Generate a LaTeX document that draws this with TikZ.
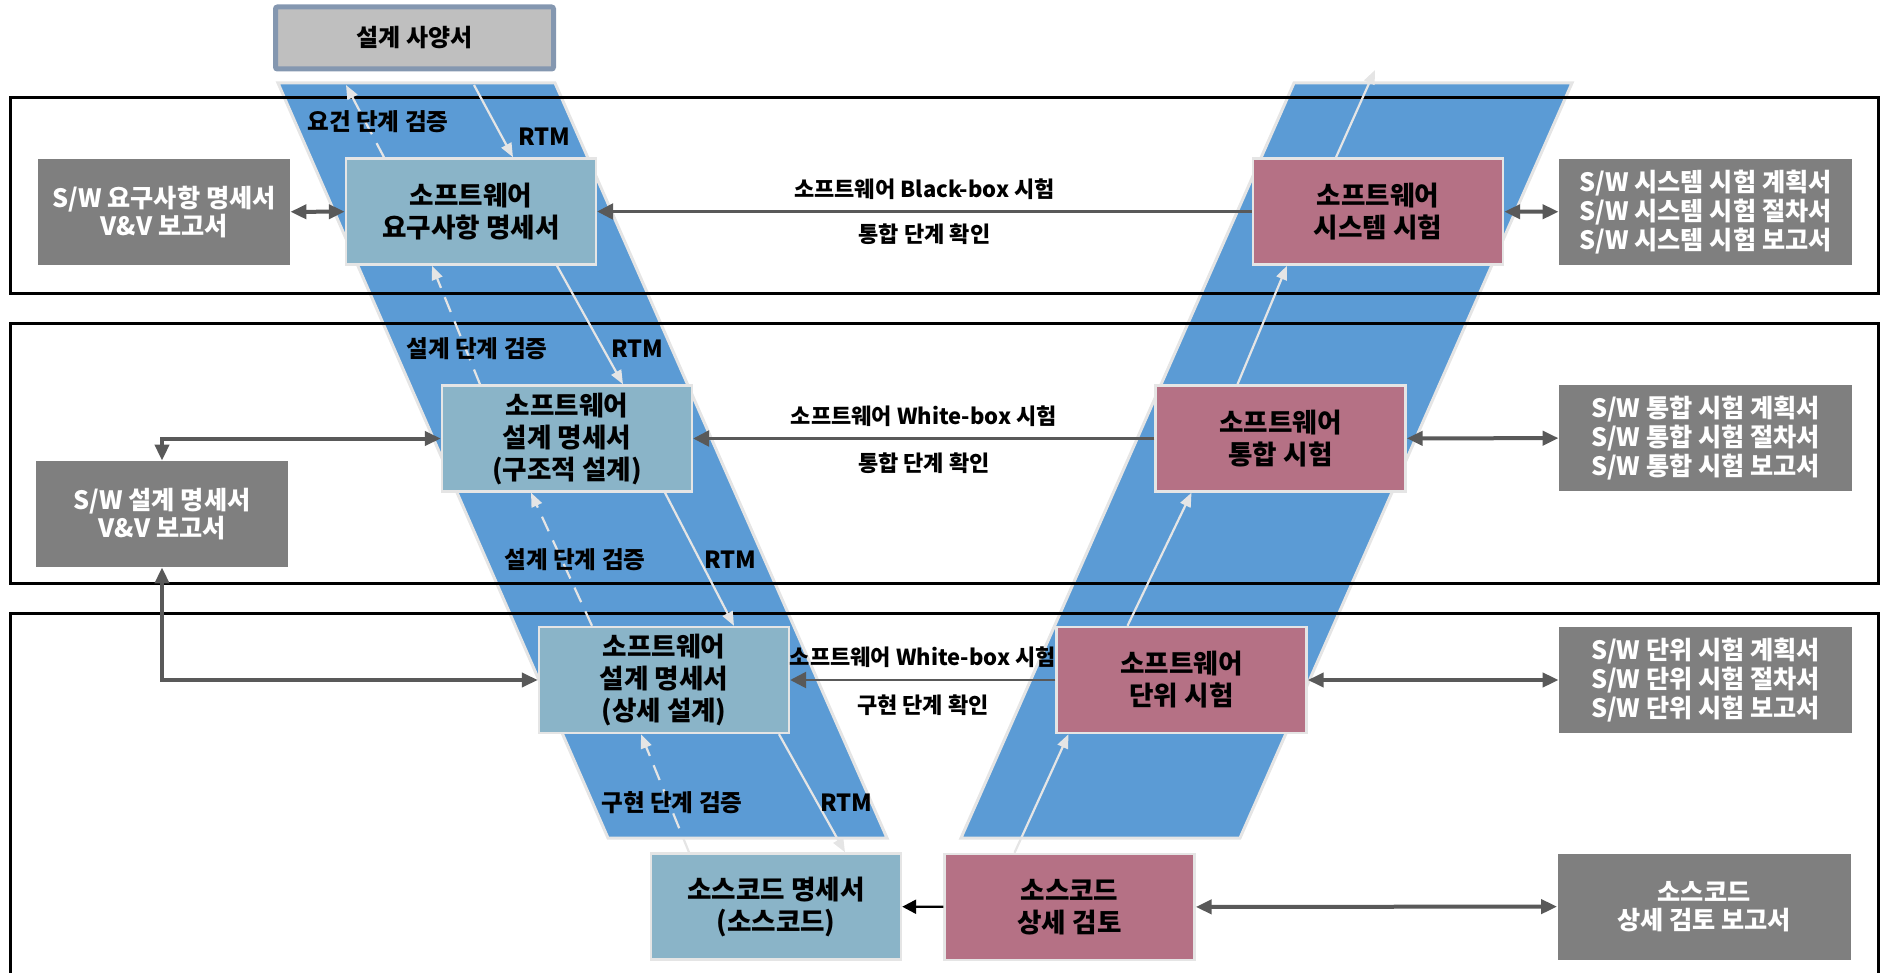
\documentclass[tikz,border=0pt]{standalone}
\usepackage{fontspec}
\setmainfont{Noto Sans CJK KR}
\usetikzlibrary{arrows.meta,calc,positioning}
\definecolor{vband}{RGB}{91,155,213}
\definecolor{vedge}{RGB}{229,229,229}
\definecolor{specfill}{RGB}{191,191,191}
\definecolor{specedge}{RGB}{132,151,176}
\definecolor{docblue}{RGB}{138,180,200}
\definecolor{testpink}{RGB}{181,113,133}
\definecolor{repgray}{RGB}{127,127,127}
\definecolor{linkgray}{RGB}{89,89,89}
\tikzset{
    spec/.style = {draw=specedge, fill=specfill, line width=2.5pt,
        rounded corners=1pt, minimum width=139pt, minimum height=31pt,
        font=\fontsize{12}{14}\selectfont\bfseries},
    docbox/.style = {draw=vedge, fill=docblue, line width=1.2pt,
        minimum width=125pt, minimum height=53pt, align=center,
        font=\fontsize{13.3}{16}\selectfont\bfseries},
    testbox/.style = {docbox, fill=testpink},
    report/.style = {fill=repgray, text=white, minimum width=146.5pt,
        minimum height=53pt, align=center,
        font=\fontsize{12.6}{14.3}\selectfont\bfseries},
    band/.style = {fill=vband, draw=vedge, line width=1.5pt},
    frame/.style = {draw=black, line width=1.5pt},
    lbl/.style = {font=\fontsize{11}{13}\selectfont\bfseries, inner sep=0pt},
    bandlbl/.style = {lbl, font=\fontsize{11.8}{13}\selectfont\bfseries},
    trace/.style = {draw=vedge, line width=1.1pt, -{Triangle[length=7pt,width=5.5pt]}},
    verify/.style = {trace, dash pattern=on 8pt off 5pt},
    link/.style = {draw=linkgray, line width=1.3pt, -{Triangle[length=8pt,width=8pt]}},
    both/.style = {draw=linkgray, line width=2pt,
        {Triangle[length=8pt,width=7pt]}-{Triangle[length=8pt,width=7pt]}},
    fix/.style = {draw=black, line width=1.2pt, -{Triangle[length=7pt,width=7pt]}}
}
\begin{document}
\begin{tikzpicture}[x=0.5pt, y=-0.5pt]
    \useasboundingbox (0,0) rectangle (1880,973);
    % V bands
    \draw[band] (278,83) -- (555,83) -- (887,838) -- (608,838) -- cycle;
    \draw[band] (1294,83) -- (1572,83) -- (1240,838) -- (961,838) -- cycle;
    % level frames
    \draw[frame] (10,98) rectangle (1878,294);
    \draw[frame] (10,324) rectangle (1878,583);
    \draw[frame] (10,973) -- (10,613) -- (1878,613) -- (1878,973);

    \node[spec] (spec) at (414.5,38) {설계 사양서};
    % left side
    \node[docbox] (req) at (471,211.5) {소프트웨어\\요구사항 명세서};
    \node[docbox] (arch) at (567,438.5) {소프트웨어\\설계 명세서\\(구조적 설계)};
    \node[docbox] (detail) at (664,680) {소프트웨어\\설계 명세서\\(상세 설계)};
    \node[docbox] (code) at (776,906.5) {소스코드 명세서\\(소스코드)};
    % right side
    \node[testbox] (systest) at (1378,211.5) {소프트웨어\\시스템 시험};
    \node[testbox] (inttest) at (1280.5,438.5) {소프트웨어\\통합 시험};
    \node[testbox] (unittest) at (1181.5,680) {소프트웨어\\단위 시험};
    \node[testbox] (review) at (1069.5,907) {소스코드\\상세 검토};
    % reports
    \node[report, minimum width=126pt] (reqdoc) at (164,212) {S/W 요구사항 명세서\\V\&V 보고서};
    \node[report, minimum width=126pt] (archdoc) at (162,514) {S/W 설계 명세서\\V\&V 보고서};
    \node[report] (sysdoc) at (1705.5,212) {S/W 시스템 시험 계획서\\S/W 시스템 시험 절차서\\S/W 시스템 시험 보고서};
    \node[report] (intdoc) at (1705.5,438) {S/W 통합 시험 계획서\\S/W 통합 시험 절차서\\S/W 통합 시험 보고서};
    \node[report] (unitdoc) at (1705.5,680) {S/W 단위 시험 계획서\\S/W 단위 시험 절차서\\S/W 단위 시험 보고서};
    \node[report] (reviewdoc) at (1704,906.5) {소스코드\\상세 검토 보고서};

    \coordinate (rtmtop) at (474,85);
    \coordinate (vertop) at (346,85);
    \coordinate (uptop) at (1375,70);

    % RTM and verification along the left band
    \draw[trace] (rtmtop) -- ($(req.north)+(42,0)$);
    \draw[trace] ($(req.south)+(86,0)$) -- ($(arch.north)+(56,0)$);
    \draw[trace] ($(arch.south)+(98,0)$) -- ($(detail.north)+(70,0)$);
    \draw[trace] ($(detail.south)+(115,0)$) -- ($(code.north)+(69,0)$);
    \draw[verify] ($(req.north)+(-87,0)$) -- (vertop);
    \draw[verify] ($(arch.north)+(-87,0)$) -- ($(req.south)+(-39,0)$);
    \draw[verify] ($(detail.north)+(-72,0)$) -- ($(arch.south)+(-36,0)$);
    \draw[verify] ($(code.north)+(-87,0)$) -- ($(detail.south)+(-23,0)$);
    % test flow along the right band
    \draw[trace] ($(review.north)+(-55,0)$) -- ($(unittest.south)+(-113,0)$);
    \draw[trace] ($(unittest.north)+(-54,0)$) -- ($(inttest.south)+(-89,0)$);
    \draw[trace] ($(inttest.north)+(-43,0)$) -- ($(systest.south)+(-91,0)$);
    \draw[trace] ($(systest.north)+(-42,0)$) -- (uptop);

    \node[bandlbl] at (378,122) {요건 단계 검증};
    \node[bandlbl] at (544,137) {RTM};
    \node[bandlbl] at (477,349) {설계 단계 검증};
    \node[bandlbl] at (637,349) {RTM};
    \node[bandlbl] at (575,560) {설계 단계 검증};
    \node[bandlbl] at (730,560) {RTM};
    \node[bandlbl] at (672,803) {구현 단계 검증};
    \node[bandlbl] at (846,803) {RTM};

    \draw[link] (systest) -- node[lbl, above=5.5pt] {소프트웨어 Black-box 시험}
        node[lbl, below=5.5pt] {통합 단계 확인} (req);
    \draw[link] (inttest) -- node[lbl, above=5.5pt] {소프트웨어 White-box 시험}
        node[lbl, below=6.5pt] {통합 단계 확인} (arch);
    \draw[link] (unittest) -- node[lbl, above=5.5pt] {소프트웨어 White-box 시험}
        node[lbl, below=6.5pt] {구현 단계 확인} (detail);
    \draw[fix] (review) -- (code);

    \draw[both] (reqdoc) -- (req);
    \draw[both] (systest) -- (sysdoc);
    \draw[both] (inttest) -- (intdoc);
    \draw[both] (unittest) -- (unitdoc);
    \draw[both] (review) -- (reviewdoc);
    \draw[both] (archdoc.north) |- (arch.west);
    \draw[both] (archdoc.south) |- (detail.west);
\end{tikzpicture}
\end{document}
